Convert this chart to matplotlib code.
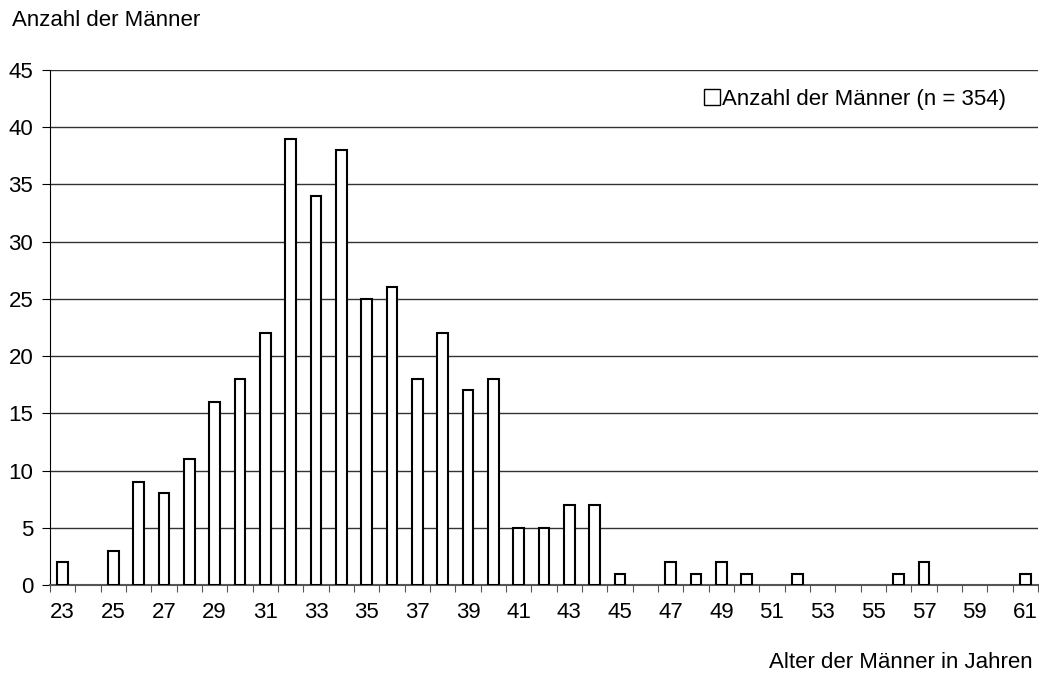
import numpy as np
import matplotlib.pyplot as plt
from matplotlib.patches import Patch

plt.rcParams['font.family'] = ['Liberation Sans', 'DejaVu Sans']

alter = list(range(23, 62))
anzahl = [2, 0, 3, 9, 8, 11, 16, 18, 22, 39,
          34, 38, 25, 26, 18, 22, 17, 18, 5, 5,
          7, 7, 1, 0, 2, 1, 2, 1, 0, 1,
          0, 0, 0, 1, 2, 0, 0, 0, 1]
y_ticks = [0, 5, 10, 15, 20, 25, 30, 35, 40, 45]
legend_label = 'Anzahl der Männer (n = 354)'

fig = plt.figure(figsize=(10.39, 6.75), dpi=100)
ax = fig.add_axes([50 / 1039, 1 - 585 / 675, 988 / 1039, 515 / 675])

x = np.arange(len(alter))
# empty categories get no outline
edges = ['black' if v > 0 else 'none' for v in anzahl]
ax.bar(x, anzahl, width=0.43, color='white', edgecolor=edges, linewidth=1.5, zorder=3)

ax.set_xlim(-0.5, len(alter) - 0.5)
ax.set_ylim(0, 45)
ax.set_yticks(y_ticks)
ax.set_yticklabels([str(v) for v in y_ticks], fontsize=16)
ax.yaxis.grid(True, color='#333333', linewidth=1)
ax.set_axisbelow(True)

# tick marks between categories, labels at every second age
ax.set_xticks(np.arange(-0.5, len(alter), 1))
ax.set_xticklabels([])
ax.set_xticks(x[::2], minor=True)
ax.set_xticklabels([str(a) for a in alter[::2]], minor=True, fontsize=16)
ax.tick_params(axis='x', which='major', length=5, direction='out', color='#555555')
ax.tick_params(axis='x', which='minor', length=0, pad=12)
ax.tick_params(axis='y', length=6, direction='out', pad=6)

for s in ['top', 'right']:
    ax.spines[s].set_visible(False)
ax.spines['left'].set_color('black')
ax.spines['bottom'].set_color('#555555')
ax.spines['bottom'].set_linewidth(1.5)

fig.text(12 / 1039, 1 - 20 / 675, 'Anzahl der Männer', fontsize=16, va='center', ha='left')
fig.text(1033 / 1039, 1 - 662 / 675, 'Alter der Männer in Jahren', fontsize=16, va='center', ha='right')

handle = Patch(facecolor='white', edgecolor='black', linewidth=1)
ax.legend([handle], [legend_label], loc='center right', bbox_to_anchor=(1006 / 1039, 1 - 99 / 675),
          bbox_transform=fig.transFigure, frameon=False, fontsize=16,
          handlelength=0.7, handleheight=0.7, handletextpad=0.1, borderaxespad=0, borderpad=0)

fig.savefig('out.png', dpi=100)
